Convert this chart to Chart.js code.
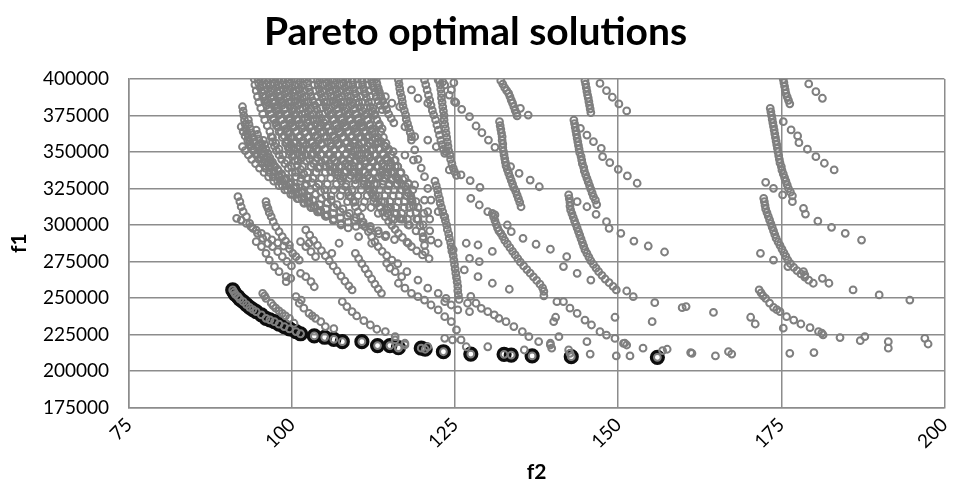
<!DOCTYPE html>
<html>
<head>
<meta charset="utf-8">
<title>Pareto optimal solutions</title>
<script src="https://cdn.jsdelivr.net/npm/chart.js@4.4.1/dist/chart.umd.min.js"></script>
<style>
  html, body { margin: 0; padding: 0; background: #fff; }
  #wrap { width: 954px; height: 497px; }
</style>
</head>
<body>
<div id="wrap"><canvas id="paretoChart" width="954" height="497"></canvas></div>
<script>
// axis ticks
const f2Ticks = [75, 100, 125, 150, 175, 200];
const f1Ticks = [175000, 200000, 225000, 250000, 275000, 300000, 325000, 350000, 375000, 400000];

// non-dominated solutions [f2, f1]
const paretoFront = [
  [90.9,255500],[91.1,254000],[91.3,252500],[91.7,251000],[92.0,249300],[92.5,247500],[93.0,245500],
  [93.5,243600],[94.0,242100],[94.5,240600],[95.3,238400],[96.0,236100],[96.6,235000],[97.3,233800],
  [98.0,232100],[98.8,230400],[99.6,228800],[100.6,227000],[101.3,225500],[103.4,224000],[105.0,223100],
  [106.4,221700],[107.7,220100],[110.7,220100],[113.1,217400],[115.0,217400],[116.3,216000],[119.8,215600],
  [120.4,214900],[123.2,213200],[127.4,211600],[132.5,211400],[133.6,210900],[136.8,210300],[142.8,209800],
  [156.0,209400]
];

// dense block of solutions, left lobe
const upperMassLeft = [
  [94.2,400000],[94.3,396000],[94.5,392000],[94.7,388000],[94.9,384000],[95.2,380000],[95.5,376000],[95.8,372000],
  [96.2,368000],[96.6,364000],[97.0,360000],[97.5,356000],[98.0,352000],[98.6,348000],[99.2,344000],[99.9,340000],
  [100.6,336000],[101.4,332000],[102.2,328000],
  [95.4,400000],[95.5,396000],[95.7,392000],[95.9,388000],[96.2,384000],[96.5,380000],[96.8,376000],[97.2,372000],
  [97.6,368000],[98.0,364000],[98.5,360000],[99.0,356000],[99.6,352000],[100.2,348000],[100.9,344000],[101.6,340000],
  [102.4,336000],[103.2,332000],[104.1,328000],[105.0,324000],[106.0,320000],
  [96.6,400000],[96.7,396000],[96.9,392000],[97.1,388000],[97.4,384000],[97.7,380000],[98.0,376000],[98.4,372000],
  [98.8,368000],[99.3,364000],[99.8,360000],[100.3,356000],[100.9,352000],[101.5,348000],[102.2,344000],[102.9,340000],
  [103.7,336000],[104.5,332000],[105.4,328000],[106.4,324000],[107.4,320000],[108.5,316000],
  [97.8,400000],[97.9,396000],[98.1,392000],[98.3,388000],[98.6,384000],[98.9,380000],[99.3,376000],[99.7,372000],
  [100.1,368000],[100.6,364000],[101.1,360000],[101.7,356000],[102.3,352000],[102.9,348000],[103.6,344000],[104.3,340000],
  [105.1,336000],[105.9,332000],[106.8,328000],[107.7,324000],[108.7,320000],[109.7,316000],[110.8,312000],
  [99.0,400000],[99.1,396000],[99.3,392000],[99.6,388000],[99.9,384000],[100.2,380000],[100.6,376000],[101.0,372000],
  [101.5,368000],[102.0,364000],[102.5,360000],[103.1,356000],[103.7,352000],[104.4,348000],[105.1,344000],[105.8,340000],
  [106.6,336000],[107.4,332000],[108.3,328000],[109.2,324000],[110.1,320000],[111.1,316000],[112.1,312000],[113.2,308000],
  [100.3,400000],[100.4,396000],[100.6,392000],[100.9,388000],[101.2,384000],[101.6,380000],[102.0,376000],[102.4,372000],
  [102.9,368000],[103.4,364000],[103.9,360000],[104.5,356000],[105.1,352000],[105.8,348000],[106.5,344000],[107.2,340000],
  [108.0,336000],[108.8,332000],[109.7,328000],[110.6,324000],[111.5,320000],[112.5,316000],[113.5,312000],[114.6,308000],
  [115.7,304000],
  [101.6,400000],[101.7,396000],[101.9,392000],[102.2,388000],[102.5,384000],[102.9,380000],[103.3,376000],[103.8,372000],
  [104.3,368000],[104.8,364000],[105.3,360000],[105.9,356000],[106.5,352000],[107.2,348000],[107.9,344000],[108.6,340000],
  [109.4,336000],[110.2,332000],[111.0,328000],[111.9,324000],[112.8,320000],[113.7,316000],[114.7,312000],[115.7,308000],
  [116.7,304000],[117.8,300000],
  [92.4,381000],[92.5,378000],[92.6,375000],[92.7,372000],[92.8,369000],[92.9,366000],[93.1,363000],[93.3,360000],
  [93.5,357000],[93.8,354000],[94.1,351000],[94.5,348000],[94.9,345000],[95.4,342000],[95.9,339000],[96.5,336000],
  [97.1,333000],[97.8,330000],[98.5,327000],[99.3,324000],[100.1,321000],[101.0,318000],[101.9,315000],[102.9,312000],
  [103.9,309000],
  [92.4,353600],[92.8,351000],[93.3,348000],[93.8,345000],[94.4,342000],[95.0,339000],[95.7,336000],[96.4,333000],
  [97.2,330000],[98.0,327000],[98.9,324000],[99.8,321000],[100.8,318000],[101.8,315000],[102.9,312000],[104.0,309000],
  [105.1,306000],[106.3,303000],[107.5,300000],
  [92.2,367300],[92.5,364000],[92.8,361000],[93.2,358000],[93.6,355000],[94.1,352000],[94.6,349000],[95.2,346000],
  [95.8,343000],[96.5,340000],[97.2,337000],[98.0,334000],[98.8,331000],[99.7,328000],[100.6,325000],[101.6,322000],
  [102.6,319000],
  [94.5,365000],[94.7,362000],[94.9,359000],[95.2,356000],[95.5,353000],[95.8,350000],[96.2,347000],[96.7,344000],
  [97.2,341000],[97.8,338000],[98.4,335000],[99.1,332000],[99.8,329000],[100.6,326000],[101.4,323000],[102.3,320000],
  [103.2,317000],[104.2,314000],[105.2,311000],[106.3,308000],[107.4,305000],[108.6,302000],[109.8,299000],
  [96.8,360300],[97.0,357000],[97.3,354000],[97.6,351000],[98.0,348000],[98.4,345000],[98.9,342000],[99.4,339000],
  [100.0,336000],[100.6,333000],[101.3,330000],[102.0,327000],[102.8,324000],[103.6,321000],[104.5,318000],[105.4,315000],
  [106.4,312000],[107.4,309000],[108.5,306000],[109.6,303000],[110.8,300000],[112.0,297000],[113.3,294000],
  [99.2,356000],[99.4,353000],[99.7,350000],[100.0,347000],[100.4,344000],[100.8,341000],[101.3,338000],[101.8,335000],
  [102.4,332000],[103.0,329000],[103.7,326000],[104.4,323000],[105.2,320000],[106.0,317000],[106.9,314000],[107.8,311000],
  [108.8,308000],[109.8,305000],[110.9,302000],[112.0,299000],[113.2,296000],[114.4,293000],[115.7,290000],
  [93.3,372000],[93.4,369000],[93.6,366000],[93.8,363000],[94.0,360000],[94.3,357000],[94.6,354000],[94.9,351000],
  [95.3,348000],[95.7,345000],[96.2,342000],[96.7,339000],[97.3,336000],[97.9,333000],[98.5,330000],[99.2,327000],
  [99.9,324000],[100.7,321000],[101.5,318000],[102.4,315000],[103.3,312000],[104.3,309000],[105.3,306000],
  [95.6,358000],[95.8,355000],[96.0,352000],[96.3,349000],[96.6,346000],[97.0,343000],[97.4,340000],[97.9,337000],
  [98.4,334000],[99.0,331000],[99.6,328000],[100.3,325000],[101.0,322000],[101.8,319000],[102.6,316000],[103.5,313000],
  [104.4,310000],[105.4,307000],[106.4,304000],[107.5,301000],[108.6,298000]
];

// extra tracks filling the dense block
const upperMassFill = [
  [94.8,400000],[94.9,397000],[95.1,394000],[95.3,391000],[95.5,388000],[95.8,385000],[96.1,382000],[96.4,379000],
  [96.7,376000],[97.1,373000],[97.5,370000],[97.9,367000],[98.3,364000],[98.8,361000],[99.3,358000],[99.8,355000],
  [100.3,352000],[100.9,349000],[101.5,346000],
  [96.0,399000],[96.1,396000],[96.3,393000],[96.5,390000],[96.7,387000],[97.0,384000],[97.3,381000],[97.6,378000],
  [97.9,375000],[98.3,372000],[98.7,369000],[99.1,366000],[99.5,363000],[100.0,360000],[100.5,357000],[101.0,354000],
  [101.5,351000],[102.1,348000],[102.7,345000],[103.3,342000],[104.0,339000],
  [97.2,400000],[97.3,397000],[97.5,394000],[97.7,391000],[97.9,388000],[98.2,385000],[98.5,382000],[98.8,379000],
  [99.1,376000],[99.5,373000],[99.9,370000],[100.3,367000],[100.7,364000],[101.2,361000],[101.7,358000],[102.2,355000],
  [102.7,352000],[103.3,349000],[103.9,346000],[104.5,343000],[105.2,340000],[105.9,337000],
  [98.4,399000],[98.5,396000],[98.7,393000],[98.9,390000],[99.1,387000],[99.4,384000],[99.7,381000],[100.0,378000],
  [100.3,375000],[100.7,372000],[101.1,369000],[101.5,366000],[101.9,363000],[102.4,360000],[102.9,357000],[103.4,354000],
  [103.9,351000],[104.5,348000],[105.1,345000],[105.7,342000],[106.4,339000],[107.1,336000],[107.8,333000],
  [99.6,400000],[99.7,397000],[99.9,394000],[100.1,391000],[100.3,388000],[100.6,385000],[100.9,382000],[101.2,379000],
  [101.5,376000],[101.9,373000],[102.3,370000],[102.7,367000],[103.1,364000],[103.6,361000],[104.1,358000],[104.6,355000],
  [105.1,352000],[105.7,349000],[106.3,346000],[106.9,343000],[107.6,340000],[108.3,337000],[109.0,334000],[109.7,331000],
  [100.9,399000],[101.0,396000],[101.2,393000],[101.4,390000],[101.6,387000],[101.9,384000],[102.2,381000],[102.5,378000],
  [102.8,375000],[103.2,372000],[103.6,369000],[104.0,366000],[104.4,363000],[104.9,360000],[105.4,357000],[105.9,354000],
  [106.4,351000],[107.0,348000],[107.6,345000],[108.2,342000],[108.9,339000],[109.6,336000],[110.3,333000],[111.0,330000],
  [102.2,400000],[102.3,397000],[102.5,394000],[102.7,391000],[102.9,388000],[103.2,385000],[103.5,382000],[103.8,379000],
  [104.1,376000],[104.5,373000],[104.9,370000],[105.3,367000],[105.7,364000],[106.2,361000],[106.7,358000],[107.2,355000],
  [107.7,352000],[108.3,349000],[108.9,346000],[109.5,343000],[110.2,340000],[110.9,337000],[111.6,334000],[112.3,331000],
  [113.0,328000],
  [103.9,399000],[104.0,396000],[104.2,393000],[104.4,390000],[104.6,387000],[104.9,384000],[105.2,381000],[105.5,378000],
  [105.8,375000],[106.2,372000],[106.6,369000],[107.0,366000],[107.4,363000],[107.9,360000],[108.4,357000],[108.9,354000],
  [109.4,351000],[110.0,348000],[110.6,345000],[111.2,342000],[111.9,339000],[112.6,336000],[113.3,333000],[114.0,330000],
  [114.8,327000],
  [105.2,400000],[105.3,397000],[105.5,394000],[105.7,391000],[105.9,388000],[106.2,385000],[106.5,382000],[106.8,379000],
  [107.1,376000],[107.5,373000],[107.9,370000],[108.3,367000],[108.7,364000],[109.2,361000],[109.7,358000],[110.2,355000],
  [110.7,352000],[111.3,349000],[111.9,346000],[112.5,343000],[113.2,340000],[113.9,337000],[114.6,334000],[115.3,331000],
  [116.1,328000],
  [106.5,399000],[106.6,396000],[106.8,393000],[107.0,390000],[107.2,387000],[107.5,384000],[107.8,381000],[108.1,378000],
  [108.4,375000],[108.8,372000],[109.2,369000],[109.6,366000],[110.0,363000],[110.5,360000],[111.0,357000],[111.5,354000],
  [112.0,351000],[112.6,348000],[113.2,345000],[113.8,342000],[114.5,339000],[115.2,336000],[115.9,333000],
  [107.8,400000],[107.9,397000],[108.1,394000],[108.3,391000],[108.5,388000],[108.8,385000],[109.1,382000],[109.4,379000],
  [109.7,376000],[110.1,373000],[110.5,370000],[110.9,367000],[111.3,364000],[111.8,361000],[112.3,358000],[112.8,355000],
  [113.3,352000],[113.9,349000],[114.5,346000],[115.1,343000],[115.8,340000],
  [109.2,399000],[109.3,396000],[109.5,393000],[109.7,390000],[109.9,387000],[110.2,384000],[110.5,381000],[110.8,378000],
  [111.1,375000],[111.5,372000],[111.9,369000],[112.3,366000],[112.7,363000],[113.2,360000],[113.7,357000],[114.2,354000],
  [114.7,351000],
  [110.7,399000],[110.8,396000],[111.0,393000],[111.2,390000],[111.4,387000],[111.7,384000],[112.0,381000],[112.3,378000],
  [112.6,375000],[113.0,372000],[113.4,369000],[113.8,366000],
  [112.2,400000],[112.3,397000],[112.5,394000],[112.7,391000],[112.9,388000],[113.2,385000],[113.5,382000],[113.8,379000]
];

// dense block of solutions, right lobe
const upperMassRight = [
  [103.3,400000],[103.4,396000],[103.6,392000],[103.8,388000],[104.1,384000],[104.4,380000],[104.7,376000],[105.1,372000],
  [105.5,368000],[106.0,364000],[106.5,360000],[107.0,356000],[107.6,352000],[108.2,348000],[108.8,344000],[109.5,340000],
  [110.2,336000],[110.9,332000],[111.7,328000],[112.5,324000],[113.3,320000],[114.2,316000],[115.1,312000],[116.0,308000],
  [117.0,304000],[118.0,300000],[119.0,296000],[120.1,292000],
  [104.6,400000],[104.7,396000],[104.9,392000],[105.1,388000],[105.4,384000],[105.7,380000],[106.0,376000],[106.4,372000],
  [106.8,368000],[107.2,364000],[107.7,360000],[108.2,356000],[108.7,352000],[109.3,348000],[109.9,344000],[110.5,340000],
  [111.2,336000],[111.9,332000],[112.6,328000],[113.4,324000],[114.2,320000],[115.0,316000],[115.9,312000],[116.8,308000],
  [117.7,304000],
  [105.9,400000],[106.0,396000],[106.2,392000],[106.4,388000],[106.7,384000],[107.0,380000],[107.3,376000],[107.7,372000],
  [108.1,368000],[108.5,364000],[109.0,360000],[109.5,356000],[110.0,352000],[110.6,348000],[111.2,344000],[111.8,340000],
  [112.5,336000],[113.2,332000],[113.9,328000],[114.7,324000],[115.5,320000],[116.3,316000],[117.2,312000],[118.1,308000],
  [119.1,304000],[120.1,300000],[121.1,296000],
  [107.2,400000],[107.3,396000],[107.5,392000],[107.7,388000],[108.0,384000],[108.3,380000],[108.6,376000],[109.0,372000],
  [109.4,368000],[109.8,364000],[110.2,360000],[110.7,356000],[111.2,352000],[111.7,348000],[112.3,344000],[112.9,340000],
  [113.5,336000],[114.2,332000],[114.9,328000],[115.6,324000],[116.4,320000],[117.2,316000],[118.0,312000],
  [108.5,400000],[108.6,396000],[108.8,392000],[109.0,388000],[109.3,384000],[109.6,380000],[109.9,376000],[110.2,372000],
  [110.6,368000],[111.0,364000],[111.4,360000],[111.9,356000],[112.4,352000],[112.9,348000],[113.5,344000],[114.1,340000],
  [114.7,336000],[115.4,332000],[116.1,328000],[116.8,324000],[117.6,320000],[118.4,316000],[119.3,312000],[120.2,308000],
  [121.1,304000],
  [110.0,400000],[110.1,396000],[110.3,392000],[110.5,388000],[110.8,384000],[111.0,380000],[111.3,376000],[111.6,372000],
  [112.0,368000],[112.3,364000],[112.7,360000],[113.1,356000],[113.5,352000],[114.0,348000],[114.5,344000],[115.0,340000],
  [115.6,336000],[116.2,332000],[116.8,328000],[117.5,324000],[118.2,320000],[119.0,316000],
  [111.5,400000],[111.6,396000],[111.8,392000],[112.0,388000],[112.2,384000],[112.4,380000],[112.7,376000],[113.0,372000],
  [113.3,368000],[113.6,364000],[114.0,360000],[114.4,356000],[114.8,352000],[115.2,348000],[115.7,344000],[116.2,340000],
  [116.7,336000],[117.3,332000],[117.9,328000],[118.5,324000],
  [112.9,400000],[113.0,397000],[113.2,394000],[113.4,391000],[113.6,388000],[113.9,385000],[114.2,382000],[114.5,379000],
  [114.8,376000],[115.2,373000],[115.6,370000]
];

// solutions between the dense block and the front
const lowerLeftCurves = [
  [91.7,319400],[92.0,316000],[92.2,312500],[92.5,309100],[93.0,305700],[93.5,301100],[94.0,297700],[94.7,294300],
  [95.5,290900],[96.3,287400],[97.0,285200],[97.8,281700],[98.5,278300],[99.2,275000],[99.9,272000],
  [91.5,304600],[92.2,303400],[93.0,301100],[93.7,298800],[94.5,296500],[95.3,294200],[96.1,292000],[96.9,289800],
  [97.8,287700],[98.7,285600],[99.6,283600],
  [94.5,288600],[95.3,285200],[96.0,280600],[96.5,276000],[97.3,271500],[98.0,268000],[99.1,264600],[99.1,261200],
  [99.8,263500],
  [96.0,316000],[96.1,313500],[96.3,311400],[96.5,308500],[96.8,305700],[97.1,302300],[97.5,298800],[98.0,295400],
  [98.5,292000],[99.0,289000],[99.6,286300],[100.1,280600],[100.6,278300],[101.1,276000],
  [101.3,288600],[102.1,285200],[102.9,281700],[103.6,278300],
  [103.4,257700],[102.9,261200],[102.1,264600],[101.3,266900]
];

const nearFrontCurves = [
  [95.5,253200],[95.8,251500],[96.0,249800],[96.8,246400],[97.1,244700],[97.5,243000],[98.0,241200],[98.5,239500],
  [99.0,237800],[99.6,236100],[100.3,232700],
  [100.6,250900],[101.1,246400],[101.4,248600],[101.8,243000],[102.6,239500],[103.1,237800],[103.6,236100],[104.4,233800],
  [105.1,230400],[106.4,229000],
  [107.7,247500],[108.4,244100],[109.2,240600],[109.9,237700],[111.0,234500],[112.0,231500],[113.0,228600],[114.3,227000],
  [115.8,223500],[117.3,219000],
  [116.3,260100],[117.3,256700],[118.3,253200],[119.3,250900],[120.3,248600],[121.3,245200],[122.4,241800],[123.4,237200],
  [124.4,233800],[125.2,228100],
  [119.3,262300],[120.8,256700],[122.4,253200],[123.6,249800],
  [114.5,273800],[115.0,270400],[115.8,268000],[116.8,264600],[117.6,268000],
  [117.3,217800],[116.3,215600],[120.8,216600],[115.8,221300]
];

const middleBands = [
  [107.0,334000],[107.6,330000],[108.2,326200],[108.6,322500],[109.0,319000],[109.4,315500],[109.7,312500],[110.1,309000],
  [110.5,305500],[110.8,302000],[111.2,298800],[111.7,295500],[112.2,292000],[112.7,288500],[113.2,285200],[113.8,282000],
  [114.5,279000],[115.3,276000],[116.2,273500],
  [111.5,327000],[111.8,324500],[112.2,321700],[112.6,318500],[113.0,315000],[113.4,312000],[113.9,308800],[114.3,305700],
  [114.8,302500],[115.3,299800],[115.8,297000],[116.3,294300],[116.9,291500],[117.6,288300],[118.3,285200],[119.1,282300],
  [120.0,279500],[121.0,277000],
  [115.8,344500],[116.2,340000],[116.6,335500],[117.0,331000],[117.4,326500],[117.8,322000],[118.2,317500],[118.6,313000],
  [119.0,308500],[119.3,304000],[119.6,299500],[119.9,295000],[120.1,290500],[120.3,286000],[120.4,281500],
  [102.1,296600],[102.7,293000],[103.3,289500],[103.9,286000],[104.5,282500],[105.1,279000],[105.7,275500],[106.3,272000],
  [106.9,268500],[107.5,265000],[108.1,261500],[108.7,258300],[109.2,255500],
  [109.7,280600],[110.2,277000],[110.7,273500],[111.2,270000],[111.7,266500],[112.2,263000],[112.7,259500],[113.2,256300],
  [113.7,253200],
  [102.6,287500],[106.1,280600],[107.2,287500],[110.2,292000],[112.2,287500],[114.3,292000],[117.8,287500],[121.3,289700],
  [122.4,287500],[124.7,283000],
  [113.7,333900],[115.3,335400],[116.3,330800],[117.8,328600],[118.8,327400],[118.3,318300],[120.3,317100],[120.8,309100],
  [122.4,309100],[123.4,305700],[114.5,310300],[116.5,304600],[115.3,304600],
  [110.7,367300],[111.7,360500],[113.2,357000],[114.3,353600],[115.5,350200],[117.3,347900],[118.6,344500],
  [113.2,392500],[114.3,387900],[115.3,383400],[116.5,381000],
  [118.3,392500],[119.3,386800],[120.8,383400],
  [122.4,399300],[123.4,395900],[124.4,392500],[124.9,384500],
  [116.3,399300],[116.4,396500],[116.5,393500],[116.6,390500],[116.8,387500],[116.9,384500],[117.0,381500],[117.2,378500],
  [117.4,375500],[117.5,372500],[117.7,369500],[117.9,366500],[118.1,363500],[118.3,360500],
  [117.3,367300],[118.3,358200],[118.8,351400],[119.3,345000],[119.8,339000],[120.3,333100],[120.8,325000],[121.3,317100],
  [120.3,399300],[120.5,396000],[120.7,392500],[120.9,389000],[121.1,385500],[121.3,382000],[121.5,378500],[121.7,375500],
  [122.0,372000],[122.2,368500],[122.4,365000],[122.6,361500],[122.8,358000],[123.0,355000],[123.2,352000],[123.4,349100],
  [118.8,360500],[120.8,358200],[122.1,353600],[123.6,350200],
  [124.1,337700],[125.9,334300],[127.3,330400],[128.8,325800]
];

const family123 = [
  [122.6,399000],[122.7,396000],[122.8,393000],[122.9,390000],[122.9,387000],[123.0,384000],[123.1,381000],[123.2,378000],
  [123.3,375000],[123.3,372000],[123.4,369000],[123.5,366000],[123.6,363000],[123.7,360000],[123.8,357000],[123.9,354000],
  [124.0,351000],[124.2,348000],[124.3,345000],[124.5,342000],[124.7,339000],[124.9,336500],[125.2,334000],
  [123.1,398000],[124.8,397500],
  [124.1,389000],[125.1,383800],[126.0,379200],[127.2,374200],[128.2,367800],[129.1,363200],[130.1,358200],[131.1,353200],
  [121.9,330000],[122.1,327000],[122.3,324000],[122.4,321000],[122.6,318000],[122.7,315000],[122.9,312000],[123.1,309000],
  [123.3,306000],[123.5,303000],[123.7,300000],[123.8,297000],[124.0,294000],[124.1,291000],[124.3,288000],[124.4,285000],
  [124.5,282000],[124.7,279000],[124.8,276000],[124.9,273000],[125.0,270000],[125.1,267000],[125.2,264000],[125.3,261000],
  [125.4,258000],[125.4,255000],[125.5,252000],[125.6,249000],
  [123.4,247500],[124.4,245200],[125.4,241800],[126.9,246400],[127.2,240600],[128.2,246400],[129.0,242900],[127.4,251100],
  [126.4,269200],[128.5,264600],[130.7,260100],[133.3,256000],
  [126.7,287500],[128.5,286300],[130.7,281900],[127.2,277200],[128.7,274900],
  [123.4,222400],[124.6,221300],[125.9,221300],[126.7,216600],[130.0,216600],[135.6,214400]
];

const family132 = [
  [132.0,398800],[132.3,396500],[132.6,394000],[132.9,392000],[133.2,390200],[133.4,388000],[133.6,385500],[133.8,383400],
  [134.0,381000],[134.2,378500],[134.4,376500],[134.5,374700],
  [135.0,379900],[136.2,375300],
  [131.8,370800],[131.9,368000],[132.0,365500],[132.1,363000],[132.2,360500],[132.2,358000],[132.3,355500],[132.3,353000],
  [132.4,350500],[132.5,348000],[132.6,345500],[132.7,343000],[132.8,340500],[133.0,338000],[133.2,335500],[133.4,333000],
  [133.6,330500],[133.8,328000],[134.0,325500],[134.3,323000],[134.5,320500],[134.7,318000],[134.9,315500],[135.1,312500],
  [133.5,340000],[134.8,335400],[136.5,330800],[137.9,326200],
  [127.4,318300],[128.7,313700],[130.0,309100],[131.1,306900],[133.0,300000],[133.6,295400],[135.4,290900],[137.4,286800],
  [139.6,283400],
  [130.7,308000],[130.9,305500],[131.1,303000],[131.3,300500],[131.5,298000],[131.7,296000],[132.0,294300],[132.3,292000],
  [132.6,289500],[133.0,287000],[133.4,284500],[133.8,282000],[134.2,279500],[134.6,277000],[135.0,274500],[135.5,272000],
  [136.0,269500],[136.5,267000],[137.0,264500],[137.5,262000],[138.0,259500],[138.4,257000],[138.6,254500],[138.6,251500],
  [130.0,240600],[131.0,238400],[131.7,236100],[132.8,233800],[134.0,230400],[135.3,227000],[136.3,223500],[137.8,220100],
  [139.6,217800]
];

const family145 = [
  [144.9,398800],[145.0,396500],[145.1,394000],[145.2,391500],[145.3,389000],[145.4,387000],[145.5,384500],[145.6,382000],
  [145.7,379500],[145.8,377000],
  [147.2,397000],[148.2,392000],[149.1,387500],[150.1,382900],[151.3,378100],
  [143.2,371900],[143.3,369500],[143.4,367000],[143.5,364500],[143.6,362000],[143.7,359500],[143.8,357000],[143.9,354500],
  [144.0,352000],[144.1,349500],[144.3,347000],[144.4,344500],[144.5,342000],[144.7,339500],[144.8,337000],[145.0,334500],
  [145.2,332000],[145.4,329500],[145.6,327000],[145.8,324500],[146.0,322000],[146.2,319500],[146.5,317000],[146.7,314000],
  [144.2,366200],[145.2,361600],[146.2,357100],[147.4,352500],[147.6,346800],[148.7,342700],[150.0,338100],[151.4,333600],
  [152.9,328600],
  [142.4,320600],[142.5,318000],[142.6,315500],[142.6,313000],[142.7,310300],[142.9,307800],[143.1,305300],[143.3,302800],
  [143.5,300500],[143.7,298000],[143.9,295500],[144.1,293000],[144.3,290500],[144.5,288000],[144.7,285500],[144.9,283000],
  [145.2,280500],[145.5,278000],[145.8,275500],[146.2,273000],[146.6,270500],[147.0,268000],[147.5,265500],[148.0,263000],
  [148.6,260500],[149.2,258000],[149.7,255500],
  [143.7,316000],[145.2,312500],[146.6,307300],[148.2,302300],[148.6,297700],[150.4,294300],[152.4,289000],[154.6,285600],
  [157.1,281500],
  [142.1,278300],[141.6,271500],[143.7,266900],[145.8,262300],[151.3,254800],[152.3,250900],[155.6,246800],[159.8,243400],
  [155.2,233800],[149.5,236800],
  [140.6,247500],[141.6,247500],[142.6,243000],[143.7,239500],[144.9,234900],[145.9,231500],[147.2,226900],[148.2,224600],
  [149.5,222300],[150.8,218900],
  [140.1,233800],[140.4,236800],[140.9,223500],[139.6,219000],[139.8,215600],[142.4,214400],[142.6,212100],[145.2,220100],
  [145.7,211600],[149.7,210300],[151.8,210300],[151.0,219000],[151.3,217800],[153.8,215600],[156.8,214000],[157.5,214900],
  [161.1,212600]
];

const family175 = [
  [175.3,399800],[175.4,397500],[175.5,395000],[175.6,392500],[175.7,390200],[175.9,387800],[176.1,385400],[176.3,383000],
  [179.2,396600],[180.3,391300],[181.3,386800],
  [173.3,379900],[173.4,377500],[173.5,375000],[173.6,372500],[173.7,370000],[173.8,367500],[173.9,365000],[174.0,362500],
  [174.1,360000],[174.2,357500],[174.3,355000],[174.4,352500],[174.5,350000],[174.6,347500],[174.7,345000],[174.8,342500],
  [175.0,340000],[175.1,337500],[175.3,335000],[175.5,332500],[175.7,330000],[175.9,327500],[176.1,325000],[176.4,322500],
  [176.7,320000],
  [175.3,370800],[176.5,365100],[177.5,361000],[177.7,356400],[179.0,351900],[180.3,346800],[181.6,342300],[183.1,337700],
  [172.6,329200],[173.8,325100],[175.2,320600],[176.7,316000],[178.4,311400],[178.7,307500],[180.6,302700],[182.7,298400],
  [184.8,294300],[187.3,289700],
  [172.3,318300],[172.4,316000],[172.5,313500],[172.6,311000],[172.8,308500],[173.0,306000],[173.2,303500],[173.4,301000],
  [173.6,298500],[173.8,296000],[174.0,293500],[174.2,291000],[174.5,288500],[174.8,286000],[175.1,283500],[175.4,281000],
  [175.7,278500],[176.0,276000],[176.4,273500],[176.9,271000],[177.4,268800],[178.0,266500],[178.6,264300],[179.2,262200],
  [179.9,260100],
  [171.8,280600],[173.8,276000],[176.0,271500],
  [178.4,268100],[178.6,265800],[181.3,263500],[182.3,260100],[186.0,255500],[190.0,252100],[194.7,248600],
  [171.6,255500],[171.9,253500],[172.2,251500],[172.6,249800],[173.2,246500],[173.8,243600],[174.3,242000],[174.8,240600],
  [175.8,237200],[176.9,234900],[178.0,232200],[179.4,229700],[180.7,227000],[181.4,224700],[181.2,226000],
  [175.3,229300],[184.0,222900],[187.1,220800],[187.8,223500],[191.4,220100],[191.4,215600],[197.0,222400],[197.5,218500],
  [160.4,244100],[164.6,240100],[170.3,236800],[171.0,232200],
  [161.3,212100],[164.9,210300],[166.9,213200],[167.4,211600],[176.3,212100],[180.0,212600]
];

const toPoints = arr => arr.map(p => ({ x: p[0], y: p[1] }));
const allSolutions = [].concat(upperMassLeft, upperMassFill, upperMassRight, lowerLeftCurves, nearFrontCurves,
  middleBands, family123, family132, family145, family175, paretoFront);

const gridGray = '#8c8c8c';
const pointGray = '#7f7f7f';
const labelFont = { family: 'Lato', size: 19 };

document.addEventListener('DOMContentLoaded', function() {
  const ctx = document.getElementById('paretoChart').getContext('2d');
  new Chart(ctx, {
    type: 'scatter',
    data: {
      datasets: [
        {
          label: 'Solutions',
          data: toPoints(allSolutions),
          order: 1,
          pointRadius: 3.4,
          pointHoverRadius: 3.4,
          borderWidth: 2,
          borderColor: pointGray,
          backgroundColor: 'rgba(0,0,0,0)'
        },
        {
          label: 'Pareto front',
          data: toPoints(paretoFront),
          order: 2,
          pointRadius: 5.6,
          pointHoverRadius: 5.6,
          borderWidth: 4,
          borderColor: '#0d0d0d',
          backgroundColor: 'rgba(0,0,0,0)'
        }
      ]
    },
    options: {
      responsive: false,
      animation: false,
      layout: { padding: { left: 0, right: 3, top: 0, bottom: 0 } },
      plugins: {
        legend: { display: false },
        tooltip: { enabled: false },
        title: {
          display: true,
          text: 'Pareto optimal solutions',
          color: '#000',
          font: { family: 'Lato', size: 39, weight: 'bold', lineHeight: 1.2 },
          padding: { top: 9, bottom: 23.2 }
        }
      },
      scales: {
        x: {
          type: 'linear',
          min: 75,
          max: 200,
          afterBuildTicks: s => { s.ticks = f2Ticks.map(v => ({ value: v })); },
          afterFit: s => { s.height = 89.5; s.paddingLeft = 0; s.paddingRight = 0; },
          ticks: { minRotation: 45, maxRotation: 45, autoSkip: false, padding: 6, color: '#000', font: labelFont },
          grid: { color: gridGray, lineWidth: 1.5, drawTicks: false },
          border: { color: gridGray, width: 1.5 },
          title: { display: true, text: 'f2', color: '#000', font: { family: 'Lato', size: 21, weight: 'bold', lineHeight: 1.2 }, padding: { top: 4, bottom: 12 } }
        },
        y: {
          type: 'linear',
          min: 175000,
          max: 400000,
          afterBuildTicks: s => { s.ticks = f1Ticks.map(v => ({ value: v })); },
          afterFit: s => { s.width = 129; s.paddingTop = 0; s.paddingBottom = 0; },
          ticks: { padding: 20, color: '#000', font: labelFont, callback: v => String(v) },
          grid: { color: gridGray, lineWidth: 1.5, drawTicks: false },
          border: { color: gridGray, width: 1.5 },
          title: { display: true, text: 'f1', color: '#000', font: { family: 'Lato', size: 21, weight: 'bold', lineHeight: 1.2 }, padding: { top: 7, bottom: 4 } }
        }
      }
    }
  });
});
</script>
</body>
</html>
